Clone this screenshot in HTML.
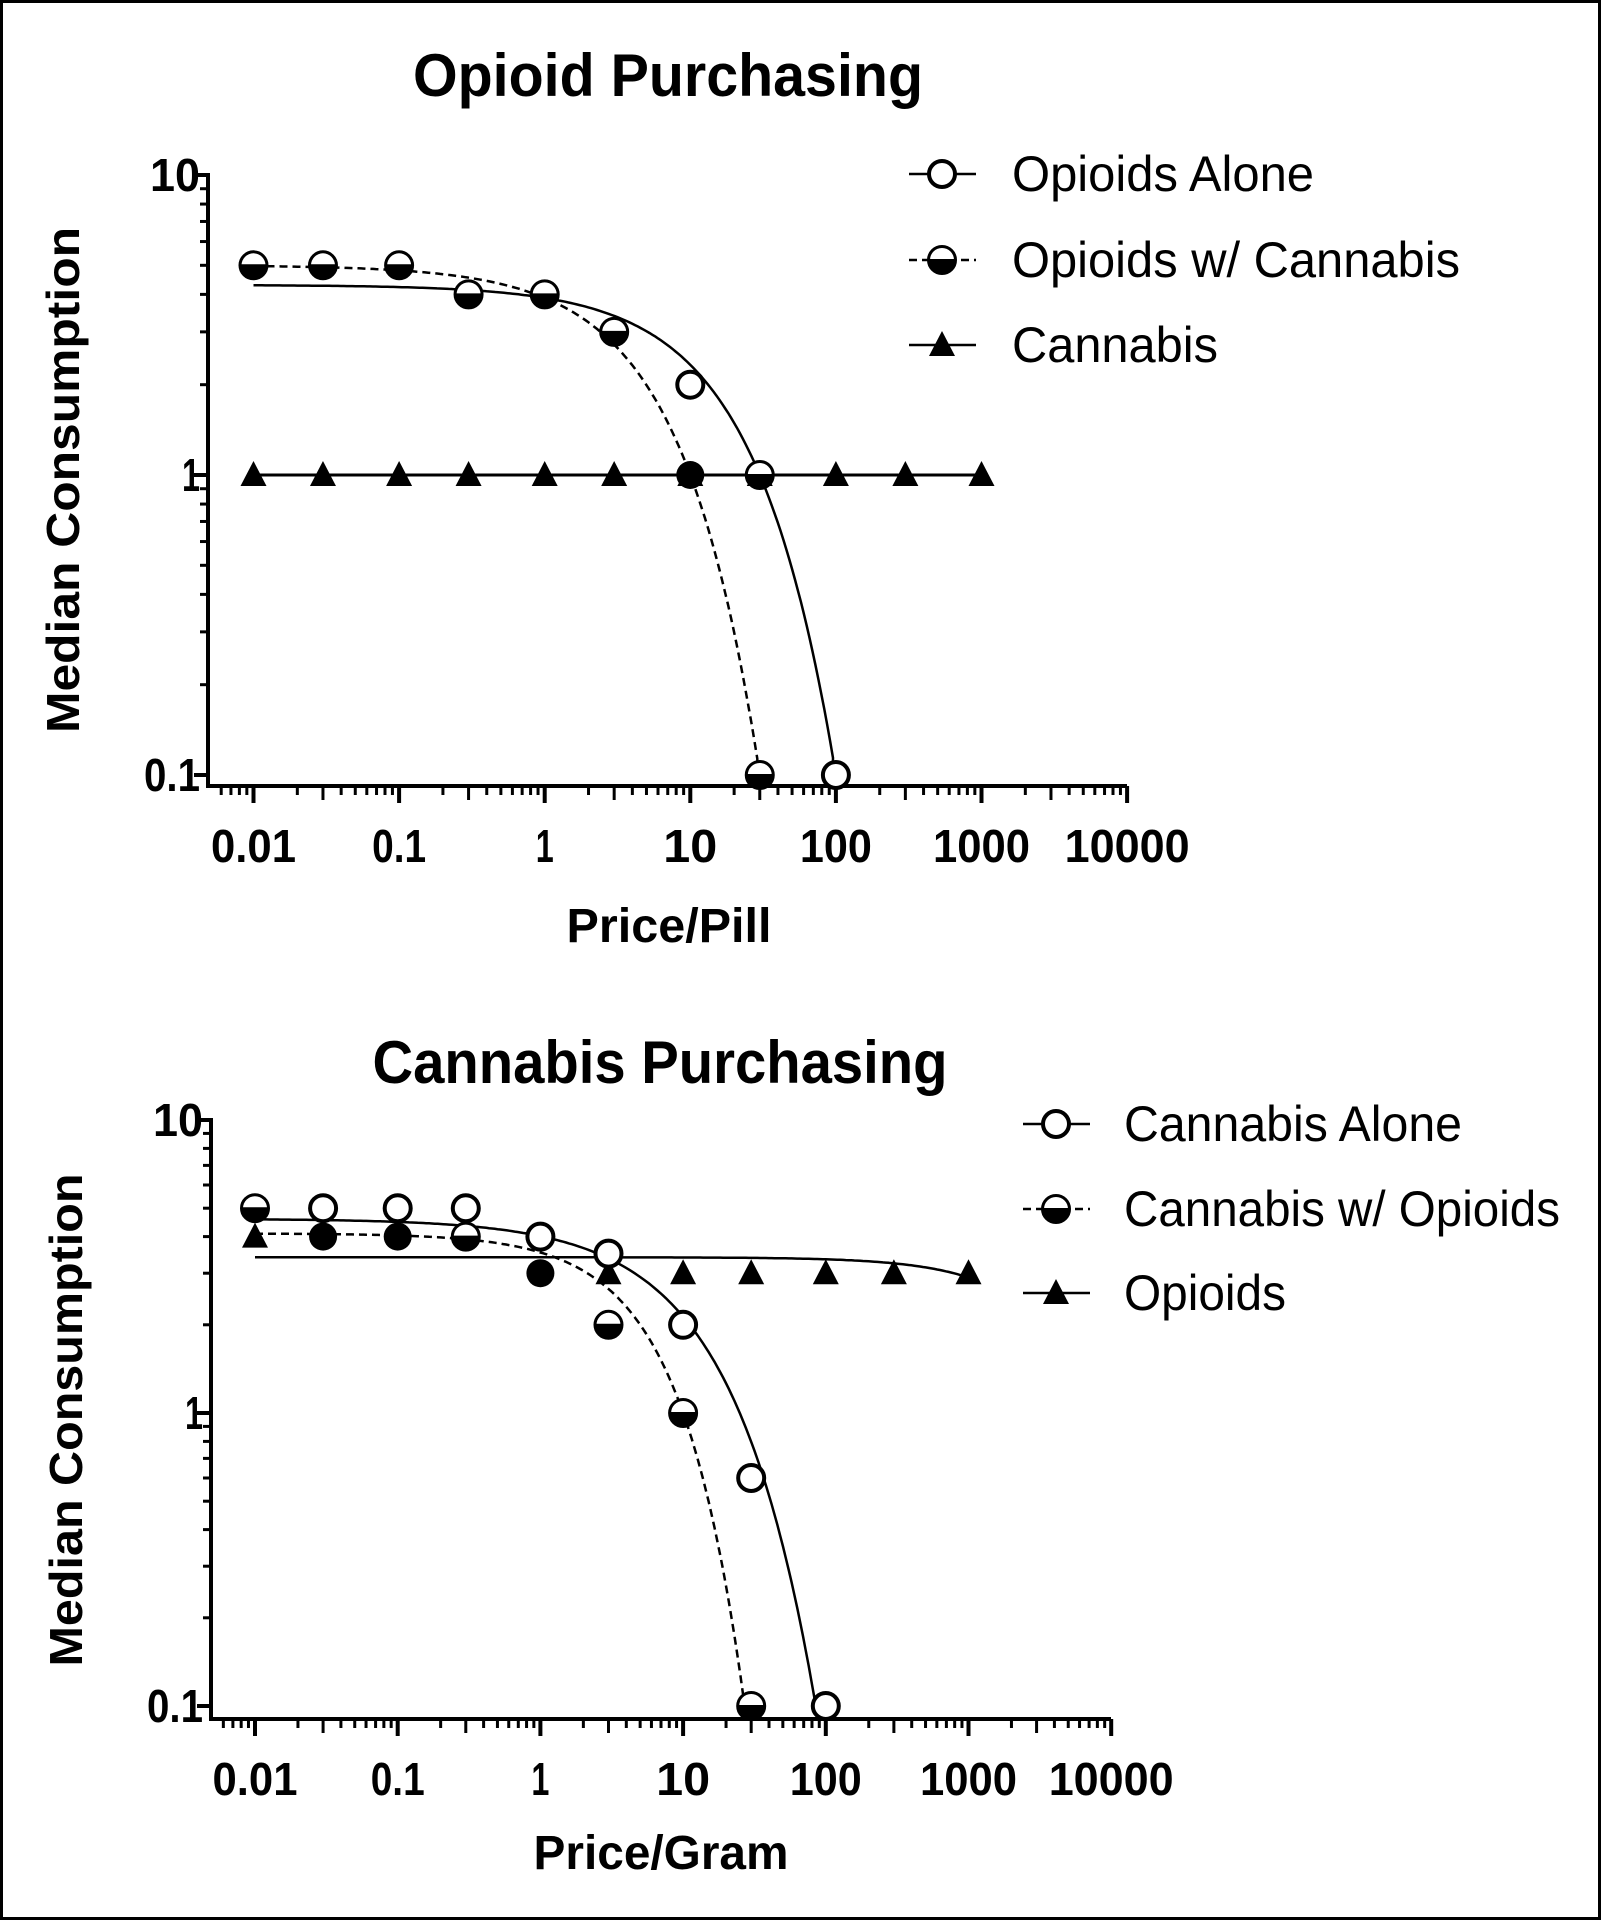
<!DOCTYPE html>
<html><head><meta charset="utf-8">
<style>
html,body{margin:0;padding:0;background:#fff;}
svg{display:block;font-family:"Liberation Sans",Arial,sans-serif;}
</style></head>
<body>
<svg id="s" width="1601" height="1920" viewBox="0 0 1601 1920" xmlns="http://www.w3.org/2000/svg">
<rect x="1.5" y="1.5" width="1598" height="1917" fill="#fff" stroke="#000" stroke-width="3"/>
<text x="668" y="96" font-size="60" font-weight="bold" text-anchor="middle" textLength="510" lengthAdjust="spacingAndGlyphs">Opioid Purchasing</text>
<text x="660" y="1083" font-size="60" font-weight="bold" text-anchor="middle" textLength="575" lengthAdjust="spacingAndGlyphs">Cannabis Purchasing</text>
<text transform="translate(79,480) rotate(-90)" font-size="46" font-weight="bold" text-anchor="middle" textLength="506" lengthAdjust="spacingAndGlyphs">Median Consumption</text>
<text transform="translate(82,1420) rotate(-90)" font-size="46" font-weight="bold" text-anchor="middle" textLength="493" lengthAdjust="spacingAndGlyphs">Median Consumption</text>
<text x="669" y="942" font-size="48" font-weight="bold" text-anchor="middle" textLength="205" lengthAdjust="spacingAndGlyphs">Price/Pill</text>
<text x="661" y="1869" font-size="48" font-weight="bold" text-anchor="middle" textLength="255" lengthAdjust="spacingAndGlyphs">Price/Gram</text>
<g id="g"></g>
</svg>
<script>
var G=document.getElementById('g'),out='';
function L(a,b,c,d,w,ex){out+='<line x1="'+a+'" y1="'+b+'" x2="'+c+'" y2="'+d+'" stroke="#000" stroke-width="'+w+'" '+(ex||'')+'/>';}
function T(x,y,t,s,a,b,tl){out+='<text x="'+x+'" y="'+y+'" font-size="'+s+'" '+(b?'font-weight="bold" ':'')+'text-anchor="'+a+'"'+(tl?' textLength="'+tl+'" lengthAdjust="spacingAndGlyphs"':'')+'>'+t+'</text>';}
function openC(x,y){out+='<circle cx="'+x+'" cy="'+y+'" r="13" fill="#fff" stroke="#000" stroke-width="4"/>';}
function fillC(x,y){out+='<circle cx="'+x+'" cy="'+y+'" r="14" fill="#000"/>';}
function halfC(x,y){out+='<circle cx="'+x+'" cy="'+y+'" r="13" fill="#000" stroke="#000" stroke-width="4"/><path d="M'+(x-12)+' '+y+' A12 12 0 0 1 '+(x+12)+' '+y+' Z" fill="#fff"/><line x1="'+(x-13)+'" y1="'+y+'" x2="'+(x+13)+'" y2="'+y+'" stroke="#000" stroke-width="2"/>';}
function tri(x,y){out+='<polygon points="'+x+','+(y-14)+' '+(x+13)+','+(y+11)+' '+(x-13)+','+(y+11)+'" fill="#000"/>';}
function chart(P){
  var X=function(v){return P.x0+(Math.log10(v)+2)*P.dx;};
  var Y=function(v){return P.y1-Math.log10(v)*P.dy;};
  L(P.ax,P.xa,P.xe,P.xa,4); L(P.ax,P.ytop-2,P.ax,P.xa+2,4);
  for(var e=-3;e<=4;e++){for(var m=1;m<=9;m++){var v=m*Math.pow(10,e);var x=X(v);if(x<P.ax+2||x>P.xe+1)continue;L(x,P.xa,x,P.xa+(m==1?17:(m==3?14:9)),m==1?4:3);}}
  [['0.01',0.01,85],['0.1',0.1,54],['1',1,18],['10',10,54],['100',100,72],['1000',1000,97],['10000',10000,125]].forEach(function(t){T(X(t[1]),P.xa+76,t[0],46,'middle',1,t[2]);});
  for(var e=-1;e<=1;e++){for(var m=1;m<=9;m++){var v=m*Math.pow(10,e);if(v>10.01||v<0.099)continue;var y=Y(v);L(P.ax,y,P.ax-(m==1?14:8),y,m==1?4:3);}}
  T(P.ax-8,Y(10)+16,'10',46,'end',1,50);T(P.ax-8,Y(1)+16,'1',46,'end',1,18);T(P.ax-8,Y(0.1)+16,'0.1',46,'end',1,56);
  P.curves.forEach(function(c){var d='';for(var lg=-2;lg<=3.001;lg+=0.02){var v=Math.pow(10,lg);var q=c.f(v);if(q<0.1){d+=' L'+X(c.end).toFixed(1)+' '+Y(0.1).toFixed(1);break;}d+=(d?' L':'M')+X(v).toFixed(1)+' '+Y(q).toFixed(1);}
    out+='<path d="'+d+'" fill="none" stroke="#000" stroke-width="'+(c.w||2.5)+'"'+(c.dash?' stroke-dasharray="8,5"':'')+'/>';});
  P.pts.forEach(function(p){var x=X(p[1]),y=Y(p[2]);if(p[0]=='o')openC(x,y);else if(p[0]=='f')fillC(x,y);else if(p[0]=='h')halfC(x,y);else tri(x,y);});
  P.leg.forEach(function(l,i){var y=P.ly[i];L(P.lx,y,P.lx+67,y,2.5,l[2]?'stroke-dasharray="8,5"':'');var cx=P.lx+33;if(l[0]=='o')openC(cx,y);else if(l[0]=='h')halfC(cx,y);else tri(cx,y);T(P.tx,y+17,l[1],50,'start',0,l[3]);});
}
function ex(q0,c0,p){return function(c){return q0*Math.exp(-Math.pow(c/c0,p));};}
var xs=[0.01,0.03,0.1,0.3,1,3,10,30,100,300,1000];
var p1=[];
xs.forEach(function(v){p1.push(['t',v,1]);});
[[0.01,'h',5],[0.03,'h',5],[0.1,'h',5],[0.3,'h',4],[1,'h',4],[3,'h',3]].forEach(function(a){p1.push([a[1],a[0],a[2]]);});
p1.push(['o',10,2],['f',10,1],['h',30,1],['h',30,0.1],['o',100,0.1]);
chart({x0:253.5,dx:145.6,y1:475,dy:300,ax:208,xe:1127,xa:786,ytop:175,
  curves:[{f:ex(4.3,18.6,0.788),end:95},{f:ex(5,5.55,0.808),end:29,dash:1},{f:function(){return 1;},end:1000,w:3}],
  pts:p1,lx:909,tx:1012,ly:[174,260,345],
  leg:[['o','Opioids Alone',0,302],['h','Opioids w/ Cannabis',1,448],['t','Cannabis',0,206]]});
var p2=[];
[[0.01,4],[3,3],[10,3],[30,3],[100,3],[300,3],[1000,3]].forEach(function(a){p2.push(['t',a[0],a[1]]);});
p2.push(['h',0.01,5],['o',0.03,5],['o',0.1,5],['o',0.3,5],['f',0.03,4],['f',0.1,4],['h',0.3,4],['o',1,4],['f',1,3],['o',3,3.5],['h',3,2],['o',10,2],['h',10,1],['o',30,0.6],['h',30,0.1],['o',100,0.1]);
chart({x0:255,dx:142.7,y1:1413,dy:293,ax:211,xe:1111,xa:1719,ytop:1120,
  curves:[{f:ex(4.6,14.2,0.75),end:85},{f:ex(4.1,7.03,0.975),end:27,dash:1},{f:function(c){return 3.4*Math.exp(-c/6290);},end:1000}],
  pts:p2,lx:1023,tx:1124,ly:[1124,1209,1293],
  leg:[['o','Cannabis Alone',0,338],['h','Cannabis w/ Opioids',1,436],['t','Opioids',0,162]]});
G.innerHTML=out;
</script>
</body></html>
